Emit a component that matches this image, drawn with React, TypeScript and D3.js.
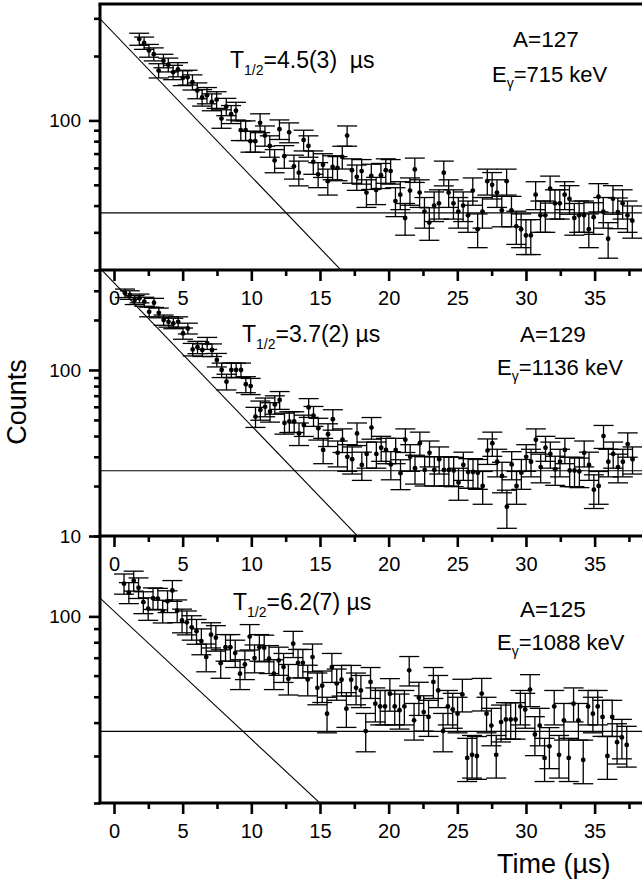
import { useEffect, useRef } from "react";
import * as d3 from "d3";

// channel width of the time spectra (µs)
const BIN_WIDTH = 0.352;

// counts per channel
const countsA127 = [
  240, 230, 212, 204, 171, 190, 182, 168, 173, 158,
  159, 151, 138, 128, 131, 122, 125, 102, 116, 107,
  111, 90, 90, 80, 80, 97.5, 85, 76, 65, 91,
  68, 88, 61, 57, 81, 76, 64, 56, 62, 52,
  60.6, 60, 67.5, 85, 58.5, 54.5, 58, 46, 55, 47.3,
  55.5, 58.5, 58, 42, 45, 35, 47, 59, 46, 37.5,
  33.3, 40, 41, 57, 46, 41, 37.5, 40, 36, 47,
  31, 37.5, 52, 50, 46, 38, 52, 38, 32, 31,
  29, 29, 45, 36, 36, 48, 41, 41, 45, 43,
  35, 36, 36, 31, 35.3, 44, 37.5, 28, 43, 37.3,
  41, 36, 34,
];

const countsA129 = [
  290, 283, 264, 270, 258, 224, 254, 221, 200, 195,
  191, 195, 166, 178, 133, 137, 132, 145, 132, 115,
  100, 85, 100, 100, 100, 82, 80, 52.3, 57.4, 60,
  56, 62, 66, 48, 49, 49, 41.5, 46.6, 59.5, 53,
  44.5, 33, 41, 50.5, 31.7, 38, 30, 29, 41.5, 26.8,
  31.2, 45, 31.2, 34, 33, 27, 33, 23.9, 38, 30,
  25.6, 36.2, 25, 31.7, 25, 29, 25, 25, 24.8, 21,
  26.8, 24.3, 24.3, 24, 20, 32.7, 36.2, 28, 23, 15,
  27, 20, 24, 30, 28, 38, 26, 34, 31.2, 25.2,
  28, 33, 24.8, 24.8, 24.5, 31.7, 26.8, 19, 20, 40,
  28, 31.2, 26, 28, 35.8, 29,
];

const countsA125 = [
  132.6, 122.7, 136, 128, 113, 107, 117, 116.5, 104.7, 114,
  125, 105, 96.6, 95, 91, 88, 80.8, 70.4, 85.4, 83.2,
  66.8, 76.7, 76.7, 72.9, 61, 66.1, 84, 69.8, 76.7, 76.3,
  69.4, 61, 68.4, 64.6, 58.4, 79, 67, 67, 58, 70.4,
  54, 55, 43.2, 64.6, 56, 57.9, 45.1, 57.9, 54, 52.8,
  37.2, 56.8, 47.1, 46, 46, 51.3, 46, 44.5, 46, 62.8,
  40.8, 49.6, 43.8, 42, 56.8, 52.8, 37.2, 46, 44.8, 43.2,
  51, 29.5, 30.3, 30, 51.4, 43.2, 39, 30.3, 40.2, 41.1,
  41.1, 41.1, 46, 44.8, 53.2, 36.1, 39, 29.5, 32.6, 46,
  30.3, 40.8, 29.5, 47.1, 40.8, 29, 46, 43.2, 46, 42,
  30, 42, 33.8, 35.2, 33,
];

// first channel centre (µs)
const startTimes = [1.84, 0.8, 0.73];

// fitted components: exponential amplitude at t=0, half-life used for the line, flat background
const fitAmplitude = [255, 335, 104.6];
const fitHalfLife = [4.5, 3.5, 6.28];
const fitBackground = [37, 24.7, 37.1];

const yDomains = [
  [20, 350],
  [10, 400],
  [20, 200],
];
const yMajorTicks = [[100], [10, 100], [100]];
const yMinorTicks = [
  [30, 40, 50, 60, 70, 80, 90, 200, 300],
  [20, 30, 40, 50, 60, 70, 80, 90, 200, 300, 400],
  [20, 30, 40, 50, 60, 70, 80, 90, 200],
];

const xMajorTicks = [0, 5, 10, 15, 20, 25, 30, 35];
const xMinorTicks = [2.5, 7.5, 12.5, 17.5, 22.5, 27.5, 32.5, 37.5];

const halfLifeLabels = ["=4.5(3)  µs", "=3.7(2) µs", "=6.2(7) µs"];
const massLabels = ["A=127", "A=129", "A=125"];
const energyLabels = ["=715 keV", "=1136 keV", "=1088 keV"];

const FONT = "'Liberation Sans', Arial, Helvetica, sans-serif";

const App = () => {
  const ref = useRef<SVGSVGElement | null>(null);

  useEffect(() => {
    const width = 642;
    const height = 886;
    const left = 100;
    const bands = [
      [4, 270],
      [270, 536],
      [536, 803],
    ];
    // annotation positions per panel
    const tPos = [
      [230, 68],
      [242, 342],
      [233, 610],
    ];
    const aPos = [
      [513, 47],
      [520, 342],
      [520, 617],
    ];
    const ePos = [
      [492, 82],
      [497, 375],
      [497, 650],
    ];

    const svg = d3.select(ref.current);
    svg.selectAll("*").remove();

    const x = d3.scaleLinear().domain([-1.02, 38.45]).range([left, width]);

    const series = [countsA127, countsA129, countsA125];

    series.forEach((counts, p) => {
      const [y0, y1] = bands[p];
      const y = d3.scaleLog().domain(yDomains[p]).range([y1, y0]);

      const clipId = `clip-${p}`;
      svg
        .append("clipPath")
        .attr("id", clipId)
        .append("rect")
        .attr("x", left)
        .attr("y", y0)
        .attr("width", width - left)
        .attr("height", y1 - y0);

      const g = svg.append("g").attr("clip-path", `url(#${clipId})`);

      // flat background
      g.append("line")
        .attr("x1", left)
        .attr("x2", width)
        .attr("y1", y(fitBackground[p]))
        .attr("y2", y(fitBackground[p]))
        .attr("stroke", "#000")
        .attr("stroke-width", 1.1);

      // exponential component (straight on log axis)
      const decay = (t: number) => fitAmplitude[p] * Math.pow(2, -t / fitHalfLife[p]);
      const line = d3
        .line<number>()
        .x((t) => x(t))
        .y((t) => y(decay(t)));
      g.append("path")
        .attr("d", line(x.domain()))
        .attr("fill", "none")
        .attr("stroke", "#000")
        .attr("stroke-width", 1.1);

      const pts = counts.map((v, i) => ({ t: startTimes[p] + i * BIN_WIDTH, v, e: Math.sqrt(v) }));

      const bars = g.append("g").attr("stroke", "#000").attr("stroke-width", 1.3);
      pts.forEach((d) => {
        const cx = x(d.t);
        const hi = y(d.v + d.e);
        const lo = y(d.v - d.e);
        bars.append("line").attr("x1", cx).attr("x2", cx).attr("y1", hi).attr("y2", lo);
        bars.append("line").attr("x1", cx - 10).attr("x2", cx + 10).attr("y1", hi).attr("y2", hi);
        bars.append("line").attr("x1", cx - 10).attr("x2", cx + 10).attr("y1", lo).attr("y2", lo);
      });

      g.append("g")
        .selectAll("circle")
        .data(pts)
        .join("circle")
        .attr("cx", (d) => x(d.t))
        .attr("cy", (d) => y(d.v))
        .attr("r", 2.4)
        .attr("fill", "#000");

      // y axis ticks
      const yMajor = svg
        .append("g")
        .attr("transform", `translate(${left},0)`)
        .call(
          d3
            .axisLeft(y)
            .tickValues(yMajorTicks[p])
            .tickSize(11)
            .tickPadding(8)
            .tickFormat(d3.format("d"))
        );
      const yMinor = svg
        .append("g")
        .attr("transform", `translate(${left},0)`)
        .call(d3.axisLeft(y).tickValues(yMinorTicks[p]).tickSize(6).tickFormat(() => ""));
      [yMajor, yMinor].forEach((a) => {
        a.select(".domain").remove();
        a.selectAll("line").attr("stroke-width", 2.6);
      });
      yMajor.selectAll("text").attr("font-family", FONT).attr("font-size", 19).attr("fill", "#000");

      // x axis along the bottom of each panel
      const xMajor = svg
        .append("g")
        .attr("transform", `translate(0,${y1})`)
        .call(d3.axisBottom(x).tickValues(xMajorTicks).tickSize(11).tickPadding(10).tickFormat(d3.format("d")));
      const xMinor = svg
        .append("g")
        .attr("transform", `translate(0,${y1})`)
        .call(d3.axisBottom(x).tickValues(xMinorTicks).tickSize(6).tickFormat(() => ""));
      [xMajor, xMinor].forEach((a) => {
        a.select(".domain").remove();
        a.selectAll("line").attr("stroke-width", 2.6);
      });
      xMajor.selectAll("text").attr("font-family", FONT).attr("font-size", 20).attr("fill", "#000");

      // annotations
      const tl = svg
        .append("text")
        .attr("x", tPos[p][0])
        .attr("y", tPos[p][1])
        .attr("font-family", FONT)
        .attr("font-size", 23)
        .style("white-space", "pre");
      tl.append("tspan").text("T");
      tl.append("tspan").attr("font-size", 14).attr("dy", 7).text("1/2");
      tl.append("tspan").attr("dy", -7).text(halfLifeLabels[p]);

      svg
        .append("text")
        .attr("x", aPos[p][0])
        .attr("y", aPos[p][1])
        .attr("font-family", FONT)
        .attr("font-size", 22.5)
        .text(massLabels[p]);

      const el = svg
        .append("text")
        .attr("x", ePos[p][0])
        .attr("y", ePos[p][1])
        .attr("font-family", FONT)
        .attr("font-size", 22);
      el.append("tspan").text("E");
      el.append("tspan").attr("font-size", 14).attr("dy", 6).text("γ");
      el.append("tspan").attr("dy", -6).text(energyLabels[p]);
    });

    // frame: left axis and panel borders
    const frame = svg.append("g").attr("stroke", "#000").attr("stroke-width", 3);
    frame.append("line").attr("x1", left).attr("x2", left).attr("y1", 4).attr("y2", 803);
    [4, 270, 536, 803].forEach((yy) => {
      frame.append("line").attr("x1", left - 1.5).attr("x2", width).attr("y1", yy).attr("y2", yy);
    });

    svg
      .append("text")
      .attr("transform", "translate(26,402) rotate(-90)")
      .attr("text-anchor", "middle")
      .attr("font-family", FONT)
      .attr("font-size", 27)
      .text("Counts");

    svg
      .append("text")
      .attr("x", 497)
      .attr("y", 873)
      .attr("font-family", FONT)
      .attr("font-size", 27)
      .text("Time (µs)");

    return () => {
      d3.select(ref.current).selectAll("*").remove();
    };
  }, []);

  return (
    <svg
      ref={ref}
      width={642}
      height={886}
      style={{ position: "absolute", left: 0, top: 0, background: "#fff" }}
    />
  );
};

export default App;
